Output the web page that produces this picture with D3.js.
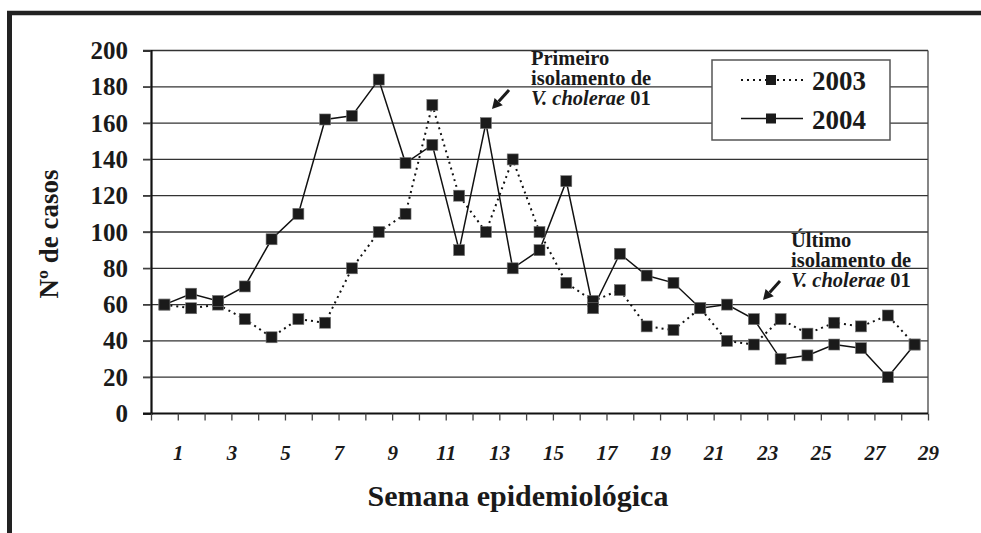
<!DOCTYPE html>
<html>
<head>
<meta charset="utf-8">
<script src="https://cdn.jsdelivr.net/npm/d3@7.9.0/dist/d3.min.js"></script>
<style>
  body { margin: 0; background: #fff; }
  svg { display: block; }
</style>
</head>
<body>
<svg id="chart" width="981" height="533" font-family="Liberation Serif"></svg>
<script>
// weeks and case counts
const weeks = d3.range(1, 30);
const cases2003 = [60, 58, 60, 52, 42, 52, 50, 80, 100, 110, 170, 120, 100, 140, 100, 72, 62, 68, 48, 46, 58, 40, 38, 52, 44, 50, 48, 54, 38];
const cases2004 = [60, 66, 62, 70, 96, 110, 162, 164, 184, 138, 148, 90, 160, 80, 90, 128, 58, 88, 76, 72, 58, 60, 52, 30, 32, 38, 36, 20, 38];
const yTicks = [0, 20, 40, 60, 80, 100, 120, 140, 160, 180, 200];
const xLabels = d3.range(1, 30, 2);
const seriesNames = ['2003', '2004'];

const FONT = 'Liberation Serif';
const INK = '#1a1a1a';

const svg = d3.select('#chart');

// outer frame (top and left only, like the scanned page)
svg.append('line').attr('x1', 7).attr('x2', 981).attr('y1', 13).attr('y2', 13)
  .attr('stroke', '#222').attr('stroke-width', 4.5);
svg.append('line').attr('x1', 9.5).attr('x2', 9.5).attr('y1', 11).attr('y2', 533)
  .attr('stroke', '#222').attr('stroke-width', 5);

const plotLeft = 151, plotRight = 928, plotTop = 50.5, plotBottom = 413.5;

const x = d3.scaleLinear().domain([0, 29]).range([plotLeft, plotRight]);
const y = d3.scaleLinear().domain([0, 200]).range([plotBottom, plotTop]);

// horizontal grid
svg.append('g')
  .selectAll('line')
  .data(yTicks.filter(d => d > 0))
  .join('line')
  .attr('x1', plotLeft - 8).attr('x2', plotRight)
  .attr('y1', d => y(d)).attr('y2', d => y(d))
  .attr('stroke', '#333').attr('stroke-width', 1.3);

// right edge of plot area
svg.append('line').attr('x1', plotRight).attr('x2', plotRight).attr('y1', plotTop).attr('y2', plotBottom)
  .attr('stroke', '#444').attr('stroke-width', 1.3);

// y axis
const yAxis = svg.append('g')
  .attr('transform', `translate(${plotLeft},0)`)
  .call(d3.axisLeft(y).tickValues(yTicks).tickSize(8).tickPadding(15))
  .attr('font-family', FONT);
yAxis.select('.domain').attr('stroke', '#111').attr('stroke-width', 2.2);
yAxis.selectAll('.tick line').attr('stroke', '#444').attr('stroke-width', 1.3);
yAxis.selectAll('.tick text')
  .attr('font-family', FONT)
  .attr('font-size', 25).attr('font-weight', 'bold').attr('fill', INK);

// x axis: ticks on every week boundary, odd labels
const xAxis = svg.append('g')
  .attr('transform', `translate(0,${plotBottom})`)
  .call(d3.axisBottom(x).tickValues(d3.range(0, 30)).tickSize(7)
    .tickFormat(d => (xLabels.includes(d) ? d : '')).tickPadding(25))
  .attr('font-family', FONT);
xAxis.select('.domain').attr('stroke', '#111').attr('stroke-width', 2.2).attr('d', `M${plotLeft - 8},0H${plotRight}`);
xAxis.selectAll('.tick line').attr('stroke', '#444').attr('stroke-width', 1.3);
xAxis.selectAll('.tick text')
  .attr('font-family', FONT)
  .attr('font-size', 21).attr('font-weight', 'bold').attr('font-style', 'italic')
  .attr('fill', INK);

// axis titles
svg.append('text')
  .attr('transform', 'translate(58,234) rotate(-90)')
  .attr('text-anchor', 'middle')
  .attr('font-family', FONT)
  .attr('font-size', 27).attr('font-weight', 'bold').attr('fill', INK)
  .text('Nº de casos');

svg.append('text')
  .attr('x', 518).attr('y', 506)
  .attr('text-anchor', 'middle')
  .attr('font-family', FONT)
  .attr('font-size', 30).attr('font-weight', 'bold').attr('fill', INK)
  .text('Semana epidemiológica');

// series lines
const line = d3.line().x((d, i) => x(weeks[i] - 0.5)).y(d => y(d));

svg.append('path').datum(cases2003)
  .attr('d', line).attr('fill', 'none')
  .attr('stroke', '#111').attr('stroke-width', 2).attr('stroke-dasharray', '2,4');

svg.append('path').datum(cases2004)
  .attr('d', line).attr('fill', 'none')
  .attr('stroke', '#111').attr('stroke-width', 1.5);

function markers(data) {
  svg.append('g')
    .selectAll('rect')
    .data(data)
    .join('rect')
    .attr('x', (d, i) => x(weeks[i] - 0.5) - 5.5)
    .attr('y', d => y(d) - 5.5)
    .attr('width', 11).attr('height', 11)
    .attr('fill', INK).attr('stroke', '#777').attr('stroke-width', 0.6);
}
markers(cases2003);
markers(cases2004);

// legend
const legend = svg.append('g');
legend.append('rect')
  .attr('x', 712).attr('y', 60).attr('width', 178).attr('height', 80)
  .attr('fill', '#fff').attr('stroke', '#555').attr('stroke-width', 1.5);

seriesNames.forEach((name, i) => {
  const ly = 80 + i * 38.5;
  legend.append('line')
    .attr('x1', 741).attr('x2', 803).attr('y1', ly).attr('y2', ly)
    .attr('stroke', '#111').attr('stroke-width', i === 0 ? 2 : 1.5)
    .attr('stroke-dasharray', i === 0 ? '2,4' : null);
  legend.append('rect')
    .attr('x', 766).attr('y', ly - 5).attr('width', 10).attr('height', 10)
    .attr('fill', INK);
  legend.append('text')
    .attr('x', 812).attr('y', ly + 10)
    .attr('font-family', FONT)
    .attr('font-size', 27).attr('font-weight', 'bold').attr('fill', INK)
    .text(name);
});

// annotations
function note(xPos, yPos, firstLine) {
  const t = svg.append('text')
    .attr('font-family', FONT)
    .attr('font-size', 20.5).attr('font-weight', 'bold').attr('fill', INK);
  t.append('tspan').attr('x', xPos).attr('y', yPos).text(firstLine);
  t.append('tspan').attr('x', xPos).attr('y', yPos + 20).text('isolamento de');
  const l3 = t.append('tspan').attr('x', xPos).attr('y', yPos + 40);
  l3.append('tspan').attr('font-style', 'italic').text('V. cholerae');
  l3.append('tspan').text(' 01');
}
note(531, 65, 'Primeiro');
note(791, 247, 'Último');

function arrow(x1, y1, x2, y2) {
  const ang = Math.atan2(y2 - y1, x2 - x1);
  const len = 10, w = 5.5;
  const bx = x2 - len * Math.cos(ang), by = y2 - len * Math.sin(ang);
  svg.append('line')
    .attr('x1', x1).attr('y1', y1).attr('x2', bx).attr('y2', by)
    .attr('stroke', INK).attr('stroke-width', 3);
  const px = -Math.sin(ang) * w, py = Math.cos(ang) * w;
  svg.append('path')
    .attr('d', `M${x2},${y2}L${bx + px},${by + py}L${bx - px},${by - py}Z`)
    .attr('fill', INK);
}
arrow(509, 90, 492, 109);
arrow(780, 281, 763, 300);
</script>
</body>
</html>
